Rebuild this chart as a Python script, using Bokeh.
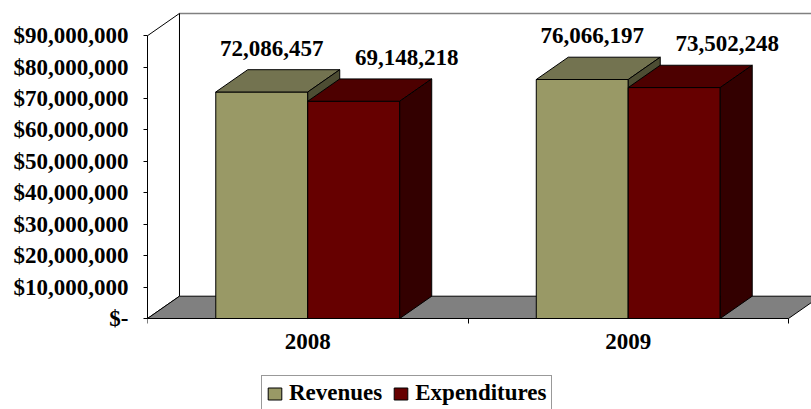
from bokeh.plotting import figure
from bokeh.models import Range1d, FixedTicker, Legend, LegendItem
from bokeh.core.properties import value
from bokeh.embed import file_html
from bokeh.resources import INLINE

# ---------------- data ----------------
categories = ["2008", "2009"]
revenues = [72086457, 76066197]
expenditures = [69148218, 73502248]
y_tick_values = [0, 10000000, 20000000, 30000000, 40000000,
                 50000000, 60000000, 70000000, 80000000, 90000000]
y_tick_labels = ["$-", "$10,000,000", "$20,000,000", "$30,000,000", "$40,000,000",
                 "$50,000,000", "$60,000,000", "$70,000,000", "$80,000,000", "$90,000,000"]

# ---------------- style / geometry ----------------
FONT = "Liberation Serif"
BAR_W = 0.287          # width of one bar, in category units
DX = 0.0998            # 3-D depth offset, x (category units)
DY = 7.1e6             # 3-D depth offset, y (value units)
AXIS_MAX = y_tick_values[-1]
PX_PER_CAT = 320.5
PX_PER_10M = 31.42
X_END = 664 / PX_PER_CAT
Y_START = -91 / PX_PER_10M * 1e7
Y_END = 318 / PX_PER_10M * 1e7

REV_FRONT, REV_TOP, REV_SIDE = "#999966", "#737350", "#4d4d33"
EXP_FRONT, EXP_TOP, EXP_SIDE = "#660000", "#4d0000", "#330000"
FLOOR = "#808080"

p = figure(width=811, height=409,
           x_range=Range1d(0, X_END), y_range=Range1d(Y_START, Y_END),
           output_backend="svg", toolbar_location=None)
p.min_border_left = 147
p.min_border_right = 0
p.min_border_top = 0
p.min_border_bottom = 0
p.outline_line_color = None
p.xgrid.visible = False
p.ygrid.visible = False
p.background_fill_color = "white"
p.border_fill_color = "white"

n = len(categories)

# side wall (left) and back wall lines
p.patch([0, 0, DX, DX], [0, AXIS_MAX, AXIS_MAX + DY, DY],
        fill_color="white", line_color="black", line_width=1)
p.line([DX, X_END + 1], [AXIS_MAX + DY, AXIS_MAX + DY], line_color="#808080", line_width=1.5)
p.line([DX, DX], [DY, AXIS_MAX + DY], line_color="black", line_width=1)

# floor
p.patch([0, n, n + DX, DX], [0, 0, DY, DY],
        fill_color=FLOOR, line_color="black", line_width=1)


def draw_bars(vals, x0s, front, top, side):
    x1s = [x + BAR_W for x in x0s]
    r = p.quad(left=x0s, right=x1s, bottom=[0] * len(vals), top=vals,
               fill_color=front, line_color="black", line_width=1)
    p.patches([[a, b, b + DX, a + DX] for a, b in zip(x0s, x1s)],
              [[v, v, v + DY, v + DY] for v in vals],
              fill_color=top, line_color="black", line_width=1)
    p.patches([[b, b, b + DX, b + DX] for b in x1s],
              [[0, v, v + DY, DY] for v in vals],
              fill_color=side, line_color="black", line_width=1)
    return r


centers = [i + 0.5 for i in range(n)]
rev_r = draw_bars(revenues, [c - BAR_W for c in centers], REV_FRONT, REV_TOP, REV_SIDE)
exp_r = draw_bars(expenditures, centers, EXP_FRONT, EXP_TOP, EXP_SIDE)

# data labels
p.text(x=[c - BAR_W / 2 for c in centers], y=revenues,
       text=[f"{v:,}" for v in revenues],
       x_offset=10, y_offset=-44, text_align="center", text_baseline="middle",
       text_font=value(FONT), text_font_style="bold", text_font_size="23px", text_color="black")
p.text(x=[c + BAR_W / 2 for c in centers], y=expenditures,
       text=[f"{v:,}" for v in expenditures],
       x_offset=53, y_offset=-44, text_align="center", text_baseline="middle",
       text_font=value(FONT), text_font_style="bold", text_font_size="23px", text_color="black")

# y axis
ya = p.yaxis[0]
ya.ticker = FixedTicker(ticks=y_tick_values, minor_ticks=[])
ya.major_label_overrides = {v: lab for v, lab in zip(y_tick_values, y_tick_labels)}
ya.bounds = (0, AXIS_MAX)
ya.axis_line_color = "black"
ya.axis_line_width = 1
ya.major_tick_out = 4
ya.major_tick_in = 0
ya.major_tick_line_color = "black"
ya.major_label_standoff = 15
ya.major_label_text_font = FONT
ya.major_label_text_font_style = "bold"
ya.major_label_text_font_size = "23px"
ya.major_label_text_color = "black"

# x axis, pinned at value 0
xa = p.xaxis[0]
xa.fixed_location = 0
xa.ticker = FixedTicker(ticks=centers, minor_ticks=[float(i) for i in range(n + 1)])
xa.major_label_overrides = {c: cat for c, cat in zip(centers, categories)}
xa.axis_line_color = None
xa.major_tick_out = 0
xa.major_tick_in = 0
xa.minor_tick_out = 5
xa.minor_tick_in = 0
xa.minor_tick_line_color = "black"
xa.major_label_standoff = 10
xa.major_label_text_font = FONT
xa.major_label_text_font_style = "bold"
xa.major_label_text_font_size = "23px"
xa.major_label_text_color = "black"

# legend
legend = Legend(items=[LegendItem(label="Revenues", renderers=[rev_r]),
                       LegendItem(label="Expenditures", renderers=[exp_r])],
                orientation="horizontal", location=(114, -2))
legend.padding = 4
legend.spacing = 10
legend.margin = 0
legend.glyph_width = 17
legend.glyph_height = 15
legend.label_standoff = 6
legend.label_text_font = FONT
legend.label_text_font_style = "bold"
legend.label_text_font_size = "23px"
legend.label_text_color = "black"
legend.border_line_color = "#333333"
legend.border_line_width = 1
legend.background_fill_color = "white"
legend.background_fill_alpha = 1
p.add_layout(legend, "center")

open("out.html", "w").write(file_html(p, INLINE))
